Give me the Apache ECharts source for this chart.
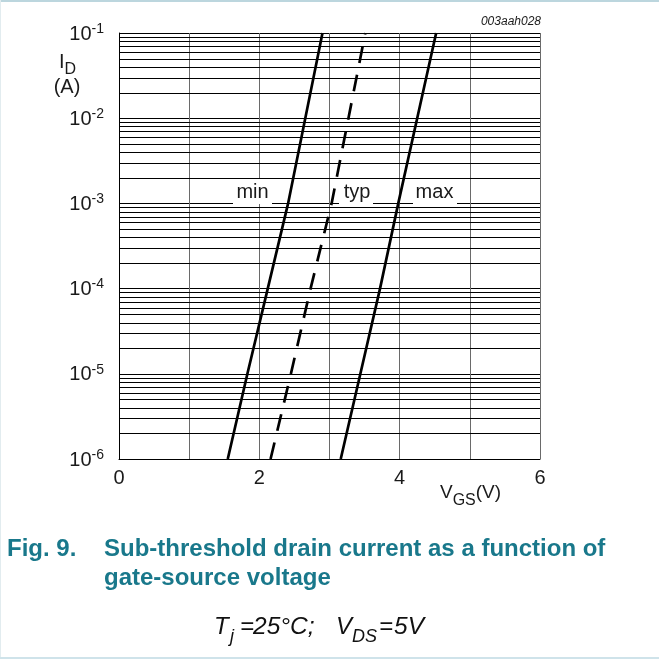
<!DOCTYPE html>
<html>
<head>
<meta charset="utf-8">
<script src="https://cdn.jsdelivr.net/npm/echarts@6/dist/echarts.min.js"></script>
<style>
html,body{margin:0;padding:0;background:#fff;}
#chart{width:659px;height:659px;}
</style>
</head>
<body>
<div id="chart"></div>
<script>
// ---- data ----
const currentLevels = [1e-6, 1e-5, 1e-4, 1e-3, 1e-2, 1e-1];   // I_D (A)
const vgsMin = [1.55, 1.83, 2.12, 2.41, 2.655, 2.90];          // V_GS (V), min
const vgsTyp = [2.16, 2.45, 2.73, 3.03, 3.27, 3.51];           // V_GS (V), typ
const vgsMax = [3.16, 3.44, 3.72, 3.98, 4.25, 4.52];           // V_GS (V), max
const xTickLabels = ['0', '', '2', '', '4', '', '6'];
const yTickExponents = ['-6', '-5', '-4', '-3', '-2', '-1'];
const decadeStarts = [1e-6, 1e-5, 1e-4, 1e-3, 1e-2];
const minorMultipliers = [2, 3, 4, 5, 6, 7, 8, 9];
const X_MIN = 0, X_MAX = 6;

const FONT = '"Liberation Sans", Arial, sans-serif';
const TEAL = '#19788b';
const INK = '#1a1a1a';

const zip = (xs) => xs.map((v, i) => [v, currentLevels[i]]);
const minorValues = [];
decadeStarts.forEach(d => minorMultipliers.forEach(m => minorValues.push([X_MIN, d * m])));

const chart = echarts.init(document.getElementById('chart'), null, { renderer: 'canvas' });

const labelBox = (cx, x, w, text) => ([
  { type: 'rect', z: 100, shape: { x: x, y: 179, width: w, height: 25 }, style: { fill: '#fff' } },
  { type: 'text', z: 101, x: cx, y: 192, style: { text: text, font: '20px ' + FONT, fill: INK, align: 'center', verticalAlign: 'middle' } }
]);
const txt = (x, y, text, font, fill) => ({ type: 'text', z: 100, x: x, y: y,
  style: { text: text, font: font, fill: fill || INK, align: 'left', verticalAlign: 'middle' } });

chart.setOption({
  animation: false,
  backgroundColor: '#fff',
  grid: { left: 119, right: 119, top: 33, bottom: 200, containLabel: false, outerBoundsMode: 'none' },
  xAxis: {
    type: 'value', min: X_MIN, max: X_MAX, interval: 1,
    axisLine: { show: true, onZero: false, lineStyle: { color: '#000', width: 1 } },
    axisTick: { show: false },
    axisLabel: {
      margin: 9, fontSize: 20, fontFamily: FONT, color: INK,
      formatter: (v) => xTickLabels[Math.round(v)] || ''
    },
    splitLine: { show: true, lineStyle: { color: '#6a6a6a', width: 1 } }
  },
  yAxis: {
    type: 'log', logBase: 10, min: 1e-6, max: 1e-1, splitNumber: 5,
    axisLine: { show: true, lineStyle: { color: '#000', width: 1 } },
    axisTick: { show: false },
    axisLabel: {
      margin: 15, color: INK,
      formatter: (v) => {
        const e = Math.round(Math.log10(v));
        return '{b|10}{s|' + yTickExponents[e + 6] + '}';
      },
      rich: {
        b: { fontSize: 20, fontFamily: FONT, color: INK, lineHeight: 22, verticalAlign: 'bottom' },
        s: { fontSize: 14, fontFamily: FONT, color: INK, lineHeight: 14, verticalAlign: 'top' }
      }
    },
    splitLine: { show: true, lineStyle: { color: '#000', width: 1 } }
  },
  series: [
    {
      name: 'minor grid', type: 'custom', z: 1, silent: true,
      encode: { x: 0, y: 1 },
      data: minorValues,
      renderItem: (params, api) => {
        const v = api.value(1);
        const p0 = api.coord([X_MIN, v]);
        const p1 = api.coord([X_MAX, v]);
        const y = Math.round(p0[1]) + 0.5;
        return { type: 'line', shape: { x1: p0[0], y1: y, x2: p1[0], y2: y },
                 style: { stroke: '#000', lineWidth: 1 } };
      }
    },
    {
      name: 'min', type: 'line', data: zip(vgsMin), symbol: 'none', z: 3,
      lineStyle: { color: '#000', width: 2.7 }
    },
    {
      name: 'typ', type: 'line', data: zip(vgsTyp), symbol: 'none', z: 3,
      lineStyle: { color: '#000', width: 2.7, type: [17, 12] }
    },
    {
      name: 'max', type: 'line', data: zip(vgsMax), symbol: 'none', z: 3,
      lineStyle: { color: '#000', width: 2.7 }
    }
  ],
  graphic: [
    { type: 'rect', z: 100, shape: { x: 0, y: 0, width: 659, height: 2 }, style: { fill: '#bcd6de' } },
    { type: 'rect', z: 100, shape: { x: 0, y: 0, width: 1, height: 659 }, style: { fill: '#e2ecef' } },
    { type: 'rect', z: 100, shape: { x: 0, y: 657, width: 659, height: 2 }, style: { fill: '#cfe3ea' } },
    { type: 'text', z: 100, x: 541, y: 22, style: { text: '003aah028', font: 'italic 12px ' + FONT, fill: INK, align: 'right', verticalAlign: 'middle' } },
    { type: 'text', z: 100, x: 59, y: 52, style: { text: '{i|I}{d|D}', fill: INK, rich: {
        i: { fontSize: 20, fontFamily: FONT, fill: INK, lineHeight: 22, verticalAlign: 'top' },
        d: { fontSize: 16, fontFamily: FONT, fill: INK, lineHeight: 26, verticalAlign: 'bottom' } } } },
    { type: 'text', z: 100, x: 67, y: 87, style: { text: '(A)', font: '20px ' + FONT, fill: INK, align: 'center', verticalAlign: 'middle' } },
    { type: 'text', z: 100, x: 440, y: 483, style: { text: '{v|V}{g|GS}{v|(V)}', fill: INK, rich: {
        v: { fontSize: 19, fontFamily: FONT, fill: INK, lineHeight: 21, verticalAlign: 'top' },
        g: { fontSize: 16, fontFamily: FONT, fill: INK, lineHeight: 26, verticalAlign: 'bottom' } } } },
    ...labelBox(252.5, 233, 39, 'min'),
    ...labelBox(357, 339, 34, 'typ'),
    ...labelBox(434.5, 413, 44, 'max'),
    txt(7, 549, 'Fig. 9.', 'bold 24px ' + FONT, TEAL),
    txt(104, 549, 'Sub-threshold drain current as a function of', 'bold 24px ' + FONT, TEAL),
    txt(104, 578, 'gate-source voltage', 'bold 24px ' + FONT, TEAL),
    txt(214, 627.5, 'T', 'italic 24px ' + FONT, '#111'),
    txt(230, 637, 'j', 'italic 18px ' + FONT, '#111'),
    txt(240, 627.5, '=', 'italic 24px ' + FONT, '#111'),
    txt(253, 627.5, '25°C;', 'italic 24.5px ' + FONT, '#111'),
    txt(336, 627.5, 'V', 'italic 24px ' + FONT, '#111'),
    txt(352, 637, 'DS', 'italic 18px ' + FONT, '#111'),
    txt(379, 627.5, '=', 'italic 24px ' + FONT, '#111'),
    txt(394, 627.5, '5V', 'italic 24.5px ' + FONT, '#111')
  ]
});
</script>
</body>
</html>
